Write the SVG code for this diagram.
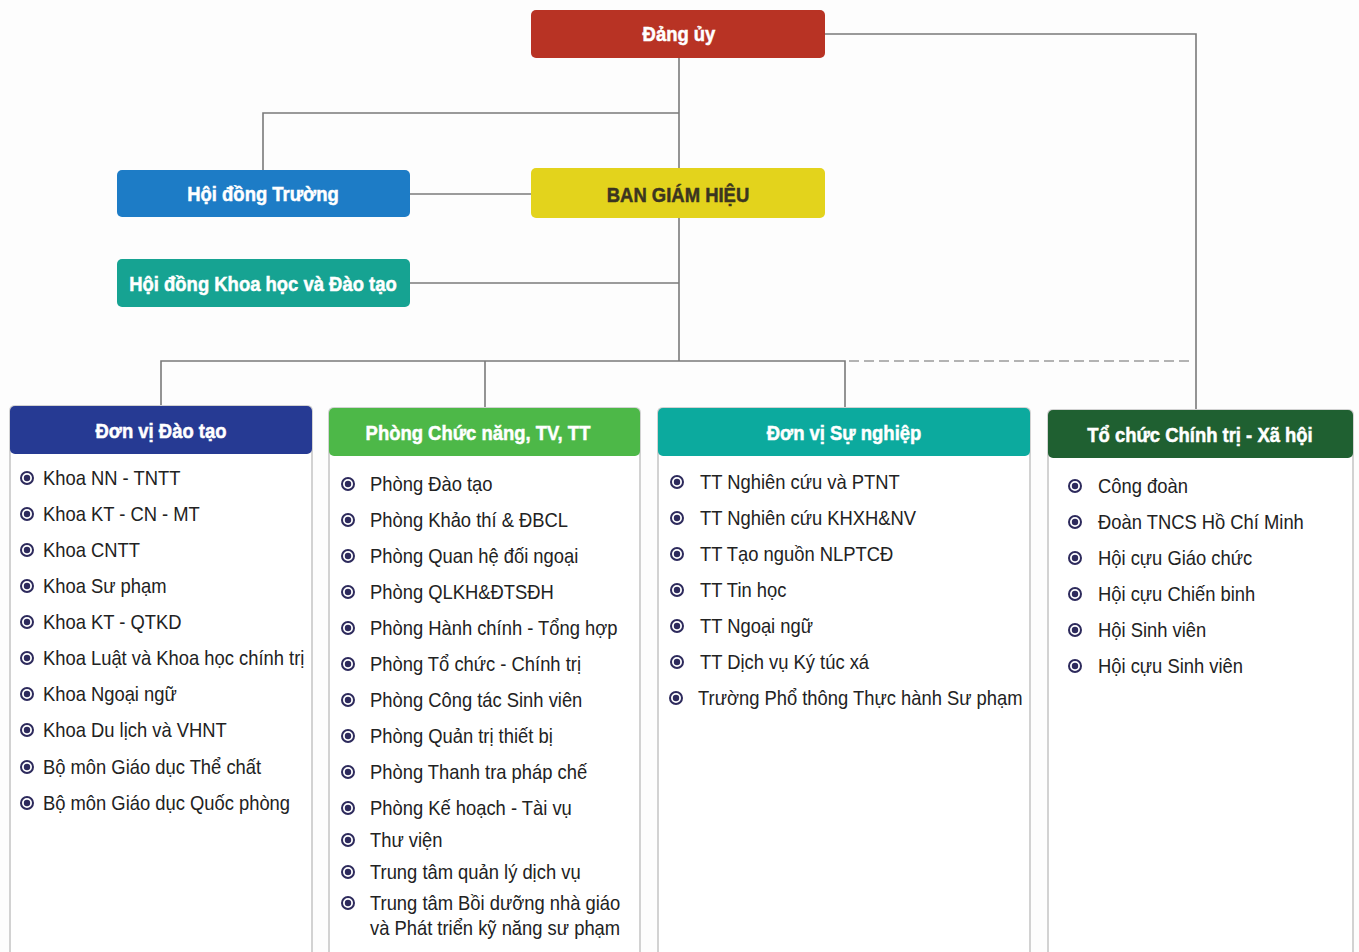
<svg xmlns="http://www.w3.org/2000/svg" width="1359" height="952" viewBox="0 0 1359 952">
<style>
.bg{fill:#fdfdfd}
.ln{stroke:#7a7a7a;stroke-width:1.6;fill:none}
.dot{stroke:#9a9a9a;stroke-width:1.4;fill:none;stroke-dasharray:10 5}
.hd{font-family:"Liberation Sans",Arial,sans-serif;font-weight:bold;font-size:20.5px;text-anchor:middle;fill:#fff;stroke:#fff;stroke-width:0.5}
.it{font-family:"Liberation Sans",Arial,sans-serif;font-size:21px;fill:#222}
.body{fill:#fff;stroke:#d2d2d2;stroke-width:2}
.bo{fill:#fff;stroke:#2d2a5c;stroke-width:2}
.bi{fill:#2d2a5c}
</style>
<defs>
<g id="b"><circle class="bo" r="6"/><circle class="bi" r="3.2"/></g>
</defs>
<rect class="bg" width="1359" height="952"/>
<g id="connectors">
<path class="ln" d="M679 58 V361"/>
<path class="ln" d="M825 34 H1196 V410"/>
<path class="ln" d="M263 170 V113 H679"/>
<path class="ln" d="M410 194 H531"/>
<path class="ln" d="M410 283 H679"/>
<path class="ln" d="M161 406 V361 H845 V408"/>
<path class="ln" d="M485 361 V408"/>
<path class="dot" d="M849 361 H1193"/>
</g>
<g id="dang-uy">
<rect x="531" y="10" width="294" height="48" rx="5" fill="#b83324"/>
<g transform="scale(0.9 1)"><text class="hd" x="754.44" y="41">Đảng ủy</text></g>
</g>
<g id="hoi-dong-truong">
<rect x="117" y="170" width="293" height="47" rx="5" fill="#1d7cc6"/>
<g transform="scale(0.9 1)"><text class="hd" x="292.22" y="201">Hội đồng Trường</text></g>
</g>
<g id="ban-giam-hieu">
<rect x="531" y="168" width="294" height="50" rx="5" fill="#e3d31c"/>
<g transform="scale(0.9 1)"><text class="hd" x="753.33" y="202" style="fill:#3b3520;stroke:#3b3520">BAN GIÁM HIỆU</text></g>
</g>
<g id="hoi-dong-khoa-hoc">
<rect x="117" y="259" width="293" height="48" rx="5" fill="#16a392"/>
<g transform="scale(0.9 1)"><text class="hd" x="292.22" y="291">Hội đồng Khoa học và Đào tạo</text></g>
</g>
<g id="don-vi-dao-tao">
<path class="body" d="M10 960 V411 Q10 406 15 406 H307 Q312 406 312 411 V960"/>
<rect x="10" y="406" width="302" height="48" rx="5" fill="#263a93"/>
<g transform="scale(0.9 1)"><text class="hd" x="178.89" y="438">Đơn vị Đào tạo</text></g>
<use href="#b" x="27" y="478"/>
<use href="#b" x="27" y="514"/>
<use href="#b" x="27" y="550"/>
<use href="#b" x="27" y="586"/>
<use href="#b" x="27" y="622"/>
<use href="#b" x="27" y="658"/>
<use href="#b" x="27" y="694"/>
<use href="#b" x="27" y="730"/>
<use href="#b" x="27" y="767"/>
<use href="#b" x="27" y="803"/>
<g transform="scale(0.875 1)">
<text class="it" x="49.14" y="485">Khoa NN - TNTT</text>
<text class="it" x="49.14" y="521">Khoa KT - CN - MT</text>
<text class="it" x="49.14" y="557">Khoa CNTT</text>
<text class="it" x="49.14" y="593">Khoa Sư phạm</text>
<text class="it" x="49.14" y="629">Khoa KT - QTKD</text>
<text class="it" x="49.14" y="665">Khoa Luật và Khoa học chính trị</text>
<text class="it" x="49.14" y="701">Khoa Ngoại ngữ</text>
<text class="it" x="49.14" y="737">Khoa Du lịch và VHNT</text>
<text class="it" x="49.14" y="774">Bộ môn Giáo dục Thể chất</text>
<text class="it" x="49.14" y="810">Bộ môn Giáo dục Quốc phòng</text>
</g>
</g>
<g id="phong-chuc-nang">
<path class="body" d="M329 960 V413 Q329 408 334 408 H635 Q640 408 640 413 V960"/>
<rect x="329" y="408" width="311" height="48" rx="5" fill="#4db848"/>
<g transform="scale(0.9 1)"><text class="hd" x="531.11" y="440">Phòng Chức năng, TV, TT</text></g>
<use href="#b" x="348" y="484"/>
<use href="#b" x="348" y="520"/>
<use href="#b" x="348" y="556"/>
<use href="#b" x="348" y="592"/>
<use href="#b" x="348" y="628"/>
<use href="#b" x="348" y="664"/>
<use href="#b" x="348" y="700"/>
<use href="#b" x="348" y="736"/>
<use href="#b" x="348" y="772"/>
<use href="#b" x="348" y="808"/>
<use href="#b" x="348" y="840"/>
<use href="#b" x="348" y="872"/>
<use href="#b" x="348" y="903"/>
<g transform="scale(0.875 1)">
<text class="it" x="422.86" y="491">Phòng Đào tạo</text>
<text class="it" x="422.86" y="527">Phòng Khảo thí &amp; ĐBCL</text>
<text class="it" x="422.86" y="563">Phòng Quan hệ đối ngoại</text>
<text class="it" x="422.86" y="599">Phòng QLKH&amp;ĐTSĐH</text>
<text class="it" x="422.86" y="635">Phòng Hành chính - Tổng hợp</text>
<text class="it" x="422.86" y="671">Phòng Tổ chức - Chính trị</text>
<text class="it" x="422.86" y="707">Phòng Công tác Sinh viên</text>
<text class="it" x="422.86" y="743">Phòng Quản trị thiết bị</text>
<text class="it" x="422.86" y="779">Phòng Thanh tra pháp chế</text>
<text class="it" x="422.86" y="815">Phòng Kế hoạch - Tài vụ</text>
<text class="it" x="422.86" y="847">Thư viện</text>
<text class="it" x="422.86" y="879">Trung tâm quản lý dịch vụ</text>
<text class="it" x="422.86" y="910">Trung tâm Bồi dưỡng nhà giáo</text>
<text class="it" x="422.86" y="935">và Phát triển kỹ năng sư phạm</text>
</g>
</g>
<g id="don-vi-su-nghiep">
<path class="body" d="M658 960 V413 Q658 408 663 408 H1025 Q1030 408 1030 413 V960"/>
<rect x="658" y="408" width="372" height="48" rx="5" fill="#0caa9e"/>
<g transform="scale(0.9 1)"><text class="hd" x="937.78" y="440">Đơn vị Sự nghiệp</text></g>
<use href="#b" x="677" y="482"/>
<use href="#b" x="677" y="518"/>
<use href="#b" x="677" y="554"/>
<use href="#b" x="677" y="590"/>
<use href="#b" x="677" y="626"/>
<use href="#b" x="677" y="662"/>
<use href="#b" x="676" y="698"/>
<g transform="scale(0.875 1)">
<text class="it" x="800" y="489">TT Nghiên cứu và PTNT</text>
<text class="it" x="800" y="525">TT Nghiên cứu KHXH&amp;NV</text>
<text class="it" x="800" y="561">TT Tạo nguồn NLPTCĐ</text>
<text class="it" x="800" y="597">TT Tin học</text>
<text class="it" x="800" y="633">TT Ngoại ngữ</text>
<text class="it" x="800" y="669">TT Dịch vụ Ký túc xá</text>
<text class="it" x="797.71" y="705">Trường Phổ thông Thực hành Sư phạm</text>
</g>
</g>
<g id="to-chuc-chinh-tri">
<path class="body" d="M1048 960 V415 Q1048 410 1053 410 H1348 Q1353 410 1353 415 V960"/>
<rect x="1048" y="410" width="305" height="48" rx="5" fill="#1f6031"/>
<g transform="scale(0.9 1)"><text class="hd" x="1333.33" y="442">Tổ chức Chính trị - Xã hội</text></g>
<use href="#b" x="1075" y="486"/>
<use href="#b" x="1075" y="522"/>
<use href="#b" x="1075" y="558"/>
<use href="#b" x="1075" y="594"/>
<use href="#b" x="1075" y="630"/>
<use href="#b" x="1075" y="666"/>
<g transform="scale(0.875 1)">
<text class="it" x="1254.86" y="493">Công đoàn</text>
<text class="it" x="1254.86" y="529">Đoàn TNCS Hồ Chí Minh</text>
<text class="it" x="1254.86" y="565">Hội cựu Giáo chức</text>
<text class="it" x="1254.86" y="601">Hội cựu Chiến binh</text>
<text class="it" x="1254.86" y="637">Hội Sinh viên</text>
<text class="it" x="1254.86" y="673">Hội cựu Sinh viên</text>
</g>
</g>
</svg>
